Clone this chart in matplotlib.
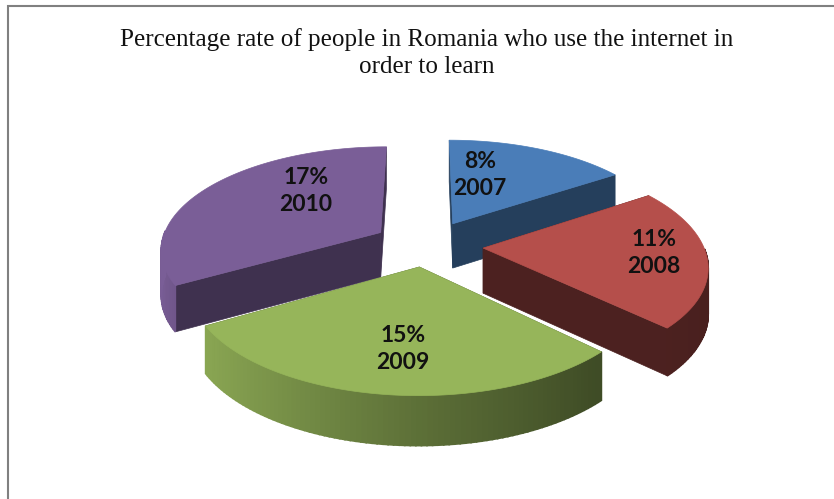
# coding=utf-8

# %% importing
import numpy as np
import matplotlib
matplotlib.use("Agg")
import matplotlib.pyplot as plt
from matplotlib.colors import to_rgb
from matplotlib.patches import Polygon

# data
years = ["2007", "2008", "2009", "2010"]
percents = [8, 11, 15, 17]
title = "Percentage rate of people in Romania who use the internet in\norder to learn"

# styles
top_colors = ["#4A7DB8", "#B54F4B", "#96B55A", "#7A5E97"]
cut_shade = [0.5, 0.42, 0.5, 0.52]
explode = [(0.13, 0.215), (0.263, -0.03), (-0.025, -0.209), (-0.205, 0.125)]
label_pos = [(480, 175), (654, 253), (403, 349), (306, 191)]
draw_order = [0, 3, 1, 2]

# projection of the pie plane to the picture, px
cx, cy = 425, 245
rx, ry = 220, 102
persp = 0.15
depth = 45


def project(x, y, down=0.0):
    s = 1 / (1 + persp * y)
    return cx + rx * x * s, cy - ry * y * s + down * (s + 1) / 2


def rim_shade(theta):
    # the side of the pie gets darker from left to right
    return np.interp(np.cos(theta), [-1, -0.87, 0, 0.7, 1], [1.0, 0.92, 0.62, 0.42, 0.4])


fig = plt.figure(figsize=(8.34, 4.99), dpi=100)
ax = fig.add_axes([0, 0, 1, 1])
ax.set_xlim(0, 834)
ax.set_ylim(499, 0)
ax.axis("off")

# frame of the chart, only top and left are in the picture
ax.plot([8.5, 8.5, 834], [499, 6, 6], color="#808080", lw=1.5, solid_joinstyle="miter")

# slices go clockwise from the top
angles = 90 - 360 * np.cumsum([0] + percents) / sum(percents)

for i in draw_order:
    colour = np.array(to_rgb(top_colors[i]))
    off_x, off_y = explode[i]
    t = np.radians(np.linspace(angles[i], angles[i + 1], 90))
    px = off_x + np.cos(t)
    py = off_y + np.sin(t)

    # the two cut faces
    for tx, ty in [(px[0], py[0]), (px[-1], py[-1])]:
        xu, yu = project(np.array([off_x, tx]), np.array([off_y, ty]))
        xl, yl = project(np.array([off_x, tx]), np.array([off_y, ty]), depth)
        pts = np.column_stack([np.r_[xu, xl[::-1]], np.r_[yu, yl[::-1]]])
        ax.add_patch(Polygon(pts, fc=colour * cut_shade[i], ec=colour * cut_shade[i], lw=0.5))

    # outer side, only the part that faces us, small pieces for the gradient
    x_up, y_up = project(px, py)
    x_lo, y_lo = project(px, py, depth)
    for j in range(len(t) - 1):
        if np.sin(t[j]) > 0:
            continue
        pts = [(x_up[j], y_up[j]), (x_up[j + 1], y_up[j + 1]),
               (x_lo[j + 1], y_lo[j + 1]), (x_lo[j], y_lo[j])]
        c = colour * rim_shade(t[j])
        ax.add_patch(Polygon(pts, fc=c, ec=c, lw=1.2))

    # top of the slice
    x_c, y_c = project(off_x, off_y)
    pts = np.column_stack([np.r_[x_c, x_up], np.r_[y_c, y_up]])
    ax.add_patch(Polygon(pts, fc=colour, ec=colour, lw=0.5))

    ax.text(label_pos[i][0], label_pos[i][1], f"{percents[i]}%\n{years[i]}",
            ha="center", va="center", fontsize=16.5, family="Lato", weight="bold",
            color="#111111", linespacing=1.35)

ax.text(426.5, 53, title, ha="center", va="center", fontsize=18.1,
        family="Liberation Serif", color="#111111", linespacing=1.25)

fig.savefig("out.png", dpi=100)
